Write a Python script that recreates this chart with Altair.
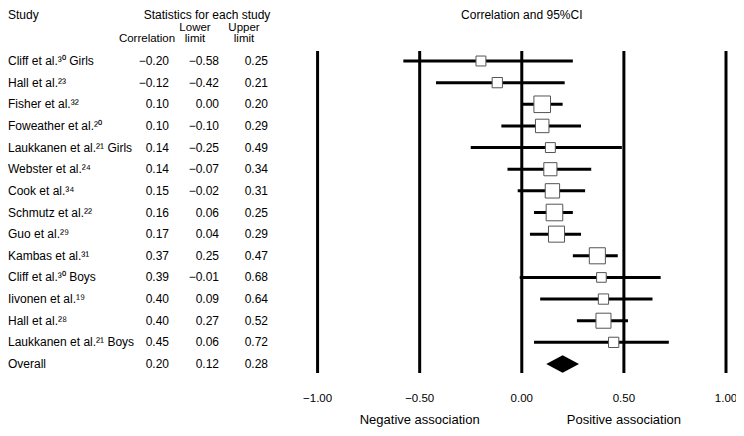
import altair as alt
import pandas as pd

# ---- data ----
studies = [
    "Cliff et al.³⁰ Girls", "Hall et al.²³", "Fisher et al.³²", "Foweather et al.²⁰",
    "Laukkanen et al.²¹ Girls", "Webster et al.²⁴", "Cook et al.³⁴", "Schmutz et al.²²",
    "Guo et al.²⁹", "Kambas et al.³¹", "Cliff et al.³⁰ Boys", "Iivonen et al.¹⁹",
    "Hall et al.²⁸", "Laukkanen et al.²¹ Boys", "Overall",
]
correlation = [-0.20, -0.12, 0.10, 0.10, 0.14, 0.14, 0.15, 0.16, 0.17, 0.37, 0.39, 0.40, 0.40, 0.45, 0.20]
lower = [-0.58, -0.42, 0.00, -0.10, -0.25, -0.07, -0.02, 0.06, 0.04, 0.25, -0.01, 0.09, 0.27, 0.06, 0.12]
upper = [0.25, 0.21, 0.20, 0.29, 0.49, 0.34, 0.31, 0.25, 0.29, 0.47, 0.68, 0.64, 0.52, 0.72, 0.28]
# relative study weights (%)
weight = [4.0, 4.3, 11.2, 7.4, 4.0, 7.0, 8.4, 11.2, 10.5, 10.5, 3.8, 4.3, 9.2, 4.3, None]

ref_lines = [-1.0, -0.5, 0.0, 0.5, 1.0]
tick_labels = ["−1.00", "−0.50", "0.00", "0.50", "1.00"]
assoc_pos = [-0.5, 0.5]
assoc_labels = ["Negative association", "Positive association"]


def fmt(v):
    s = f"{abs(v):.2f}"
    return ("−" + s) if v < 0 else s


df = pd.DataFrame({
    "study": studies,
    "r": correlation,
    "lo": lower,
    "hi": upper,
    "w": weight,
})
df["r_txt"] = [fmt(v) for v in correlation]
df["lo_txt"] = [fmt(v) for v in lower]
df["hi_txt"] = [fmt(v) for v in upper]

studies_df = df[df["study"] != "Overall"]
overall_df = df[df["study"] == "Overall"]
ref_df = pd.DataFrame({"v": ref_lines, "label": tick_labels})
assoc_df = pd.DataFrame({"v": assoc_pos, "label": assoc_labels})

FONT = "Liberation Sans"
W, H = 728, 420

xscale = alt.Scale(domain=[-2.516, 1.049], nice=False, zero=False)
yscale = alt.Scale(type="point", domain=studies, range=[53, 356], padding=0)
X = lambda f: alt.X(f, type="quantitative", scale=xscale, axis=None)
Y = alt.Y("study:N", scale=yscale, axis=None)

vlines = alt.Chart(ref_df).mark_rule(strokeWidth=3, color="black").encode(
    x=X("v"), y=alt.value(43), y2=alt.value(365)
)

ci = alt.Chart(studies_df).mark_rule(strokeWidth=3, color="black").encode(
    x=X("lo"), x2="hi", y=Y
)

boxes = alt.Chart(studies_df).mark_point(
    shape="square", filled=False, fill="white", fillOpacity=1, opacity=1,
    stroke="#555555", strokeWidth=1
).encode(
    x=X("r"), y=Y,
    size=alt.Size("w:Q", scale=alt.Scale(domain=[0, 11.2], range=[0, 275]), legend=None),
)

# pooled estimate: diamond centred on the overall correlation
diamond = alt.Chart(overall_df).mark_point(
    shape="M-1,0L0,-0.54L1,0L0,0.54Z", filled=True, color="black",
    opacity=1, size=1076, strokeWidth=0
).encode(x=X("r"), y=Y)


def col_text(field, xpos, align):
    return alt.Chart(df).mark_text(
        align=align, baseline="middle", font=FONT, fontSize=12, color="black"
    ).encode(x=alt.value(xpos), y=Y, text=f"{field}:N")


names = col_text("study", 0, "left")
c_r = col_text("r_txt", 161, "right")
c_lo = col_text("lo_txt", 211, "right")
c_hi = col_text("hi_txt", 260, "right")


def header(txt, xpos, ypos, align="center", size=12):
    return alt.Chart(pd.DataFrame({"t": [txt]})).mark_text(
        align=align, baseline="middle", font=FONT, fontSize=size, color="black"
    ).encode(x=alt.value(xpos), y=alt.value(ypos), text="t:N")


headers = [
    header("Study", 0, 7, "left"),
    header("Statistics for each study", 199, 7),
    header("Lower", 187, 19.5, size=11.5),
    header("limit", 187, 31, size=11.5),
    header("Upper", 236, 19.5, size=11.5),
    header("limit", 236, 31, size=11.5),
    header("Correlation", 139, 31, size=11.5),
]

title = alt.Chart(pd.DataFrame({"v": [0.0], "t": ["Correlation and 95%CI"]})).mark_text(
    align="center", baseline="middle", font=FONT, fontSize=12, color="black"
).encode(x=X("v"), y=alt.value(7), text="t:N")

ticks = alt.Chart(ref_df).mark_text(
    align="center", baseline="middle", font=FONT, fontSize=11.5, color="black"
).encode(x=X("v"), y=alt.value(391), text="label:N")

assoc = alt.Chart(assoc_df).mark_text(
    align="center", baseline="middle", font=FONT, fontSize=13, color="black"
).encode(x=X("v"), y=alt.value(412), text="label:N")

chart = alt.layer(
    vlines, ci, boxes, diamond, names, c_r, c_lo, c_hi, *headers, title, ticks, assoc
).properties(
    width=W, height=H, padding=0,
    autosize=alt.AutoSizeParams(type="none"),
).configure_view(stroke=None)

chart.save("out.html", embed_options={"renderer": "svg", "actions": False})
